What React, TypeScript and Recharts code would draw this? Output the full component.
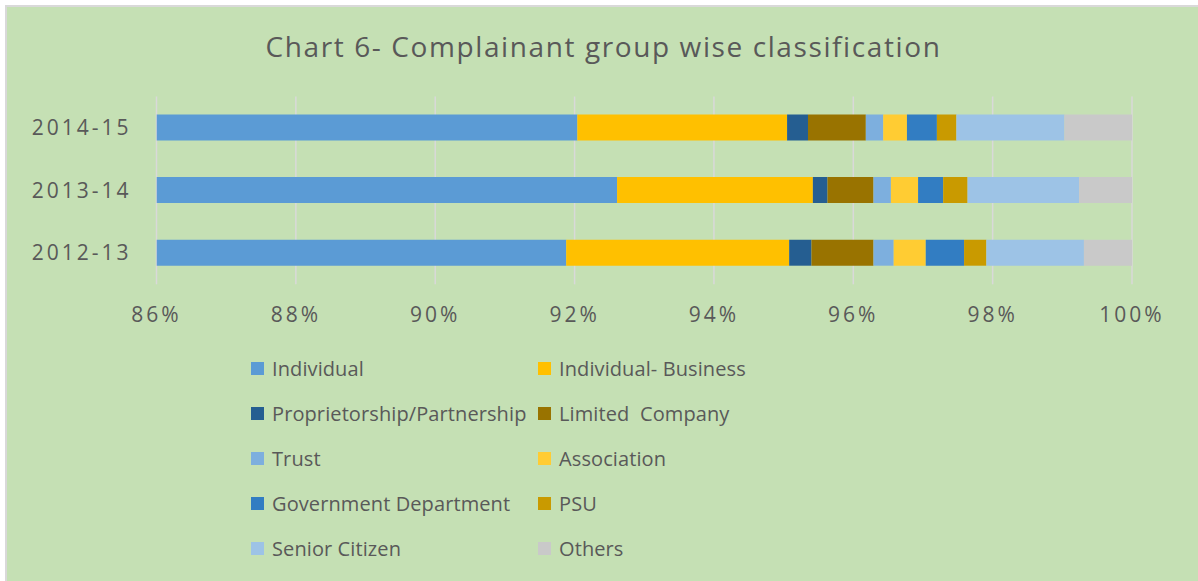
import { BarChart, Bar, XAxis, YAxis, CartesianGrid } from 'recharts';

const years = ['2014-15', '2013-14', '2012-13'];

// shares in % (each year sums to 100)
const individual = [92.04, 92.61, 91.88];
const individualBusiness = [3.01, 2.81, 3.2];
const proprietorship = [0.3, 0.21, 0.32];
const limitedCompany = [0.83, 0.66, 0.89];
const trust = [0.25, 0.25, 0.29];
const association = [0.34, 0.39, 0.46];
const governmentDept = [0.43, 0.36, 0.55];
const psu = [0.28, 0.35, 0.32];
const seniorCitizen = [1.55, 1.6, 1.4];
const others = [0.97, 0.76, 0.69];

const xTicks = [86, 88, 90, 92, 94, 96, 98, 100];

const series = [
  { key: 's0', name: 'Individual', values: individual, color: '#5B9BD5' },
  { key: 's1', name: 'Individual- Business', values: individualBusiness, color: '#FFC000' },
  { key: 's2', name: 'Proprietorship/Partnership', values: proprietorship, color: '#255E91' },
  { key: 's3', name: 'Limited  Company', values: limitedCompany, color: '#997300' },
  { key: 's4', name: 'Trust', values: trust, color: '#7DAFDE' },
  { key: 's5', name: 'Association', values: association, color: '#FFCC33' },
  { key: 's6', name: 'Government Department', values: governmentDept, color: '#327DC2' },
  { key: 's7', name: 'PSU', values: psu, color: '#C99A00' },
  { key: 's8', name: 'Senior Citizen', values: seniorCitizen, color: '#9DC3E6' },
  { key: 's9', name: 'Others', values: others, color: '#C9C9C9' },
];

const data = years.map((year, i) => {
  const row: Record<string, string | number> = { year };
  series.forEach((s) => { row[s.key] = s.values[i]; });
  return row;
});

const FONT = '"Open Sans", sans-serif';
const TEXT = '#595959';

function ChartLegend() {
  return (
    <>
      {series.map((s, i) => {
        const col = i % 2;
        const row = Math.floor(i / 2);
        return (
          <div
            key={s.key}
            style={{
              position: 'absolute',
              left: col === 0 ? 251 : 538,
              top: 354.6 + row * 45,
              height: 27.2,
              display: 'flex',
              alignItems: 'center',
              fontFamily: FONT,
              fontSize: 20,
              color: TEXT,
              whiteSpace: 'pre',
            }}
          >
            <span style={{ width: 13, height: 13, background: s.color, marginRight: 8, display: 'inline-block' }} />
            <span style={{ letterSpacing: 0.1 }}>{s.name}</span>
          </div>
        );
      })}
    </>
  );
}

export default function App() {
  return (
    <div style={{ position: 'absolute', left: 0, top: 0, width: 1198, height: 581, overflow: 'hidden', background: '#fff' }}>
      <div
        style={{
          position: 'absolute',
          left: 5,
          top: 5,
          width: 1210,
          height: 600,
          border: '2px solid #D9D9D9',
          background: '#C5E0B4',
        }}
      />
      <div
        style={{
          position: 'absolute',
          left: 0,
          width: 1207,
          top: 27,
          textAlign: 'center',
          fontFamily: FONT,
          fontSize: 28,
          letterSpacing: 1.6,
          color: TEXT,
          whiteSpace: 'nowrap',
        }}
      >
        Chart 6- Complainant group wise classification
      </div>
      <div style={{ position: 'absolute', left: 0, top: 0 }}>
        <BarChart
          width={1198}
          height={340}
          data={data}
          layout="vertical"
          margin={{ top: 96.5, right: 66, bottom: 15.7, left: 16.5 }}
        >
          <CartesianGrid horizontal={false} stroke="#D9D9D9" strokeWidth={1.5} />
          <XAxis
            type="number"
            domain={[86, 100]}
            ticks={xTicks}
            allowDataOverflow
            axisLine={false}
            tickLine={false}
            tickSize={0}
            tickMargin={23}
            height={40}
            tickFormatter={(v) => `${v}%`}
            tick={{ fill: TEXT, fontSize: 21, fontFamily: FONT, letterSpacing: 3 }}
          />
          <YAxis
            type="category"
            dataKey="year"
            width={140}
            axisLine={false}
            tickLine={false}
            tickSize={0}
            tickMargin={25}
            tick={{ fill: TEXT, fontSize: 21, fontFamily: FONT, letterSpacing: 3 }}
          />
          {series.map((s) => (
            <Bar
              key={s.key}
              dataKey={s.key}
              name={s.name}
              stackId="a"
              fill={s.color}
              barSize={26}
              isAnimationActive={false}
            />
          ))}
        </BarChart>
      </div>
      <ChartLegend />
    </div>
  );
}
